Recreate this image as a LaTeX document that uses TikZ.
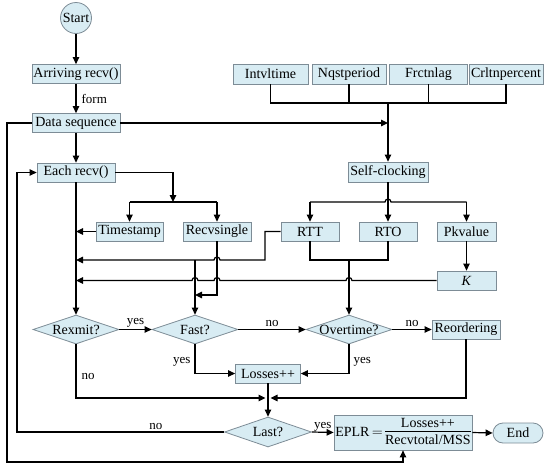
\documentclass[tikz,border=0pt]{standalone}
\usepackage{fontspec}
\usepackage{amsmath}
\setmainfont{Liberation Serif}
\usetikzlibrary{arrows.meta,shapes.geometric,calc}
\definecolor{boxfill}{RGB}{216,236,243}
\definecolor{boxline}{RGB}{125,140,150}
\begin{document}
\begin{tikzpicture}[x=1pt,y=-1pt,
  every node/.style={font=\fontsize{14}{16}\selectfont},
  box/.style={draw=boxline,fill=boxfill,line width=0.8pt,inner sep=0pt,minimum height=19pt},
  dia/.style={draw=boxline,fill=boxfill,line width=0.8pt,diamond,inner sep=0pt,minimum width=86pt,minimum height=29pt},
  lab/.style={font=\fontsize{13}{15}\selectfont,inner sep=1pt},
  conn/.style={line width=1.2pt},
  arr/.style={conn,-{Triangle[length=7pt,width=6.5pt]}}]
\useasboundingbox (0,0) rectangle (550,469);
% nodes
\node[circle,draw=boxline,fill=boxfill,line width=0.8pt,minimum size=31pt,inner sep=0pt] (start) at (76,18) {Start};
\node[box,minimum width=88pt] (arr) at (76,74) {Arriving recv()};
\node[box,minimum width=88pt] (data) at (76,123) {Data sequence};
\node[box,minimum width=78pt] (eachr) at (76,172.5) {Each recv()};
\node[box,minimum width=67pt] (ts) at (129.5,231.5) {Timestamp};
\node[box,minimum width=68pt] (rs) at (217,231.5) {Recvsingle};
\node[box,minimum width=75pt,minimum height=20pt] (intv) at (270.5,74) {Intvltime};
\node[box,minimum width=74pt,minimum height=20pt] (nqst) at (349,74) {Nqstperiod};
\node[box,minimum width=78pt,minimum height=20pt] (frct) at (428.5,74) {Frctnlag};
\node[box,minimum width=74pt,minimum height=20pt] (crlt) at (506,74) {Crltnpercent};
\node[box,minimum width=80pt,minimum height=20pt] (self) at (388,172) {Self-clocking};
\node[box,minimum width=58pt] (rtt) at (310,231.5) {RTT};
\node[box,minimum width=58pt] (rto) at (388,231.5) {RTO};
\node[box,minimum width=59pt] (pk) at (466.5,231.5) {Pkvalue};
\node[box,minimum width=59pt] (K) at (466.5,280.5) {\textit{K}};
\node[dia,label=center:{Rexmit?}] (rex) at (76,329.5) {};
\node[dia,label=center:{Fast?}] (fast) at (195,329.5) {};
\node[dia,label=center:{Overtime?}] (over) at (349,329.5) {};
\node[box,minimum width=68pt] (reord) at (466,329.5) {Reordering};
\node[box,minimum width=65pt] (loss) at (268,373.5) {Losses++};
\node[dia,minimum width=87pt,minimum height=30pt,label=center:{Last?}] (last) at (268,432) {};
\node[box,minimum width=138pt,minimum height=35pt] (eplr) at (403,432.5)
  {EPLR\,$=$\,\begin{tabular}{@{}c@{}}Losses++\\[-1pt]\hline\rule{0pt}{13pt}Recvtotal/MSS\end{tabular}};
\node[box,rounded corners=10pt,minimum width=50pt,minimum height=20pt] (fin) at (518,433) {End};
% top chain
\draw[arr] (start.south) -- (arr.north);
\draw[arr] (arr.south) -- (data.north) node[lab,midway,right=4pt] {form};
\draw[arr] (data.south) -- (eachr.north);
% parameter bar
\coordinate (tb) at (self.north |- 0,103);
\draw[conn] (intv.south) |- (tb) -| (crlt.south);
\draw[conn] (nqst.south) -- (nqst.south |- tb);
\draw[conn] (frct.south) -- (frct.south |- tb);
\draw[arr] (tb) -- (self.north);
\draw[arr] (data.east) -- (data.east -| self.north);
% self-clocking outputs
\draw[arr] (self.south) -- (rto.north);
\draw[conn] (rtt.north |- 0,202) -- (385,202) arc (180:360:3) -- (pk.north |- 0,202);
\draw[arr] (rtt.north |- 0,202) -- (rtt.north);
\draw[arr] (pk.north |- 0,202) -- (pk.north);
\draw[arr] (pk.south) -- (K.north);
% each recv outputs
\coordinate (eb) at (173,202);
\draw[arr] (eachr.east) -| (eb);
\draw[conn] (ts.north |- eb) -- (rs.north |- eb);
\draw[arr] (ts.north |- eb) -- (ts.north);
\draw[arr] (rs.north |- eb) -- (rs.north);
\draw[arr] (eachr.south) -- (rex.north);
\draw[arr] (ts.west) -- (ts.west -| eachr.south);
% RTT line
\coordinate (rl) at (265,260);
\draw[arr] (rtt.west) -| (rl) -- (220,260) arc (0:-180:3) -- (eachr.south |- rl);
\draw[arr] (fast.north |- rl) -- (fast.north);
% RTT/RTO merge
\draw[conn] (rtt.south) |- (349,260) -| (rto.south);
\draw[arr] (over.north |- rl) -- (over.north);
% K line
\draw[arr] (K.west) -- (352,280.5) arc (0:-180:3) -- (220,280.5) arc (0:-180:3) -- (198,280.5) arc (0:-180:3) -- (eachr.south |- 0,280.5);
% Recvsingle line
\draw[arr] (rs.south) |- (fast.north |- 0,295);
% decisions
\draw[arr] (rex.east) -- (fast.west) node[lab,midway,above=1pt] {yes};
\draw[arr] (fast.east) -- (over.west) node[lab,midway,above=1pt] {no};
\draw[arr] (over.east) -- (reord.west) node[lab,midway,above=1pt] {no};
\draw[arr] (fast.south) |- (loss.west) node[lab,pos=0.3,left=3pt] {yes};
\draw[arr] (over.south) |- (loss.east) node[lab,pos=0.3,right=3pt] {yes};
\coordinate (mj) at (268,398);
\draw[arr] (rex.south) |- ($(mj)+(-2.5,0)$) node[lab,pos=0.3,right=4pt] {no};
\draw[arr] (reord.south) |- ($(mj)+(2.5,0)$);
\draw[arr] (loss.south) -- (last.north);
\draw[arr] (last.west) -- (17,432) node[lab,pos=0.33,above=1pt] {no} -- (17,172.5) -- (eachr.west);
\draw[arr] (last.east) -- (eplr.west) node[lab,midway,above=-1pt] {yes};
\draw[arr] (eplr.east) -- (fin.west);
\draw[arr] (data.west) -- (7,123) -- (7,462) -- (eplr.south |- 0,462) -- (eplr.south);
\end{tikzpicture}
\end{document}
